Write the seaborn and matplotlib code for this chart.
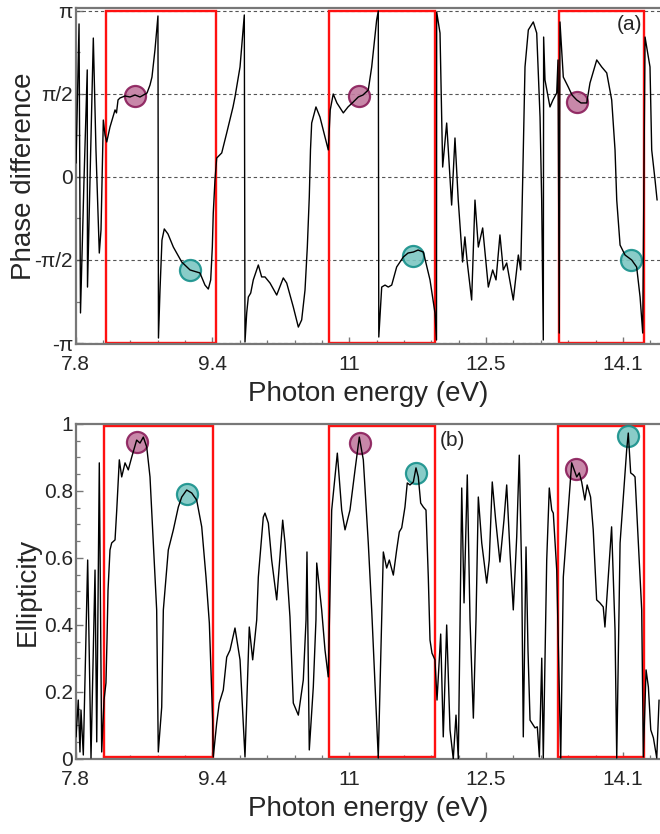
import numpy as np
import pandas as pd
import matplotlib
matplotlib.use("Agg")
import matplotlib.pyplot as plt
from matplotlib.patches import Rectangle
from matplotlib.ticker import FixedLocator, MultipleLocator, AutoMinorLocator
import seaborn as sns

# ---------------- (a) phase difference (in units of pi) ----------------
energy_a = [
    7.804, 7.839, 7.856, 7.897, 7.935, 7.938, 8.006, 8.037, 8.076, 8.096,
    8.123, 8.143, 8.163, 8.201, 8.260, 8.277, 8.295, 8.318, 8.377, 8.435,
    8.494, 8.552, 8.634, 8.669, 8.692, 8.727, 8.762, 8.768, 8.786, 8.809,
    8.836, 8.879, 8.942, 9.040, 9.137, 9.253, 9.312, 9.351, 9.379, 9.398,
    9.409, 9.429, 9.449, 9.508, 9.566, 9.640, 9.663, 9.722, 9.772, 9.780,
    9.800, 9.819, 9.847, 9.877, 9.936, 9.975, 10.014, 10.073, 10.151, 10.228,
    10.268, 10.345, 10.404, 10.443, 10.482, 10.509, 10.532, 10.546, 10.560, 10.610,
    10.657, 10.754, 10.777, 10.812, 10.855, 10.930, 10.985, 11.047, 11.105, 11.160,
    11.222, 11.262, 11.320, 11.339, 11.345, 11.379, 11.418, 11.456, 11.496, 11.554,
    11.632, 11.687, 11.749, 11.804, 11.866, 11.944, 12.002, 12.020, 12.022, 12.061,
    12.092, 12.139, 12.197, 12.236, 12.274, 12.325, 12.352, 12.379, 12.431, 12.470,
    12.509, 12.560, 12.626, 12.677, 12.716, 12.762, 12.801, 12.841, 12.918, 12.977,
    13.005, 13.028, 13.055, 13.094, 13.152, 13.192, 13.231, 13.250, 13.269, 13.273,
    13.289, 13.347, 13.382, 13.426, 13.441, 13.456, 13.464, 13.503, 13.561, 13.605,
    13.660, 13.710, 13.777, 13.815, 13.894, 13.952, 14.011, 14.069, 14.108, 14.128,
    14.167, 14.225, 14.303, 14.361, 14.401, 14.432, 14.459, 14.517, 14.537, 14.576,
    14.600,
]
phase_a = [
    0.084, 0.922, -0.819, -0.018, 0.645, -0.663, 0.837, 0.163, -0.458, -0.319,
    0.343, 0.253, 0.211, 0.301, 0.404, 0.386, 0.464, 0.476, 0.488, 0.482,
    0.494, 0.482, 0.506, 0.554, 0.602, 0.765, 0.970, -0.970, -0.681, -0.380,
    -0.313, -0.343, -0.422, -0.512, -0.560, -0.578, -0.651, -0.675, -0.620, -0.422,
    -0.217, -0.018, 0.114, 0.145, 0.265, 0.422, 0.482, 0.663, 0.976, -0.994,
    -0.819, -0.723, -0.699, -0.620, -0.530, -0.602, -0.602, -0.639, -0.711, -0.608,
    -0.639, -0.783, -0.904, -0.861, -0.681, -0.422, -0.120, 0.163, 0.325, 0.422,
    0.361, 0.163, 0.404, 0.500, 0.446, 0.386, 0.422, 0.452, 0.482, 0.494,
    0.524, 0.663, 0.946, 1.000, -0.964, -0.663, -0.651, -0.663, -0.651, -0.542,
    -0.482, -0.458, -0.452, -0.440, -0.452, -0.620, -0.819, -0.982, 0.994, 0.867,
    0.060, 0.325, -0.169, 0.235, -0.139, -0.512, -0.361, -0.512, -0.741, -0.139,
    -0.422, -0.307, -0.663, -0.560, -0.620, -0.349, -0.560, -0.518, -0.741, -0.470,
    -0.560, -0.018, 0.663, 0.886, 0.934, 0.867, 0.361, -0.139, -0.982, 0.843,
    0.584, 0.422, 0.464, 0.506, 0.705, -0.940, 0.934, 0.602, 0.542, 0.494,
    0.464, 0.446, 0.446, 0.566, 0.705, 0.663, 0.627, 0.464, 0.163, -0.139,
    -0.410, -0.470, -0.500, -0.542, -0.723, -0.940, 0.843, 0.663, 0.163, -0.018,
    -0.139,
]

# ---------------- (b) ellipticity ----------------
energy_b = [
    7.804, 7.830, 7.850, 7.862, 7.889, 7.940, 7.979, 8.026, 8.046, 8.076,
    8.104, 8.131, 8.154, 8.166, 8.178, 8.201, 8.221, 8.260, 8.280, 8.310,
    8.338, 8.377, 8.415, 8.455, 8.513, 8.552, 8.591, 8.631, 8.669, 8.708,
    8.747, 8.766, 8.806, 8.825, 8.883, 8.942, 9.000, 9.040, 9.098, 9.157,
    9.215, 9.274, 9.324, 9.363, 9.402, 9.409, 9.449, 9.479, 9.526, 9.566,
    9.605, 9.663, 9.722, 9.780, 9.830, 9.870, 9.917, 9.936, 9.994, 10.014,
    10.053, 10.092, 10.151, 10.221, 10.248, 10.306, 10.345, 10.404, 10.462, 10.494,
    10.505, 10.532, 10.579, 10.610, 10.619, 10.677, 10.716, 10.754, 10.794, 10.860,
    10.911, 10.950, 11.008, 11.067, 11.117, 11.164, 11.222, 11.262, 11.320, 11.339,
    11.379, 11.398, 11.437, 11.468, 11.515, 11.554, 11.585, 11.613, 11.651, 11.678,
    11.710, 11.749, 11.780, 11.807, 11.835, 11.866, 11.897, 11.924, 11.944, 11.967,
    12.002, 12.026, 12.069, 12.099, 12.139, 12.178, 12.216, 12.248, 12.275, 12.315,
    12.342, 12.380, 12.412, 12.451, 12.482, 12.509, 12.549, 12.607, 12.637, 12.672,
    12.712, 12.762, 12.809, 12.841, 12.880, 12.918, 12.958, 12.988, 13.017, 13.035,
    13.067, 13.090, 13.114, 13.172, 13.199, 13.223, 13.251, 13.269, 13.309, 13.339,
    13.368, 13.386, 13.426, 13.456, 13.473, 13.503, 13.561, 13.601, 13.660, 13.690,
    13.718, 13.755, 13.782, 13.822, 13.853, 13.893, 13.931, 13.970, 13.990, 14.029,
    14.068, 14.108, 14.128, 14.167, 14.205, 14.244, 14.263, 14.291, 14.322, 14.342,
    14.381, 14.420, 14.439, 14.471, 14.498, 14.526, 14.557, 14.596, 14.623,
]
ellipticity_b = [
    0.066, 0.176, 0.021, 0.146, 0.012, 0.594, 0.003, 0.564, 0.051, 0.884,
    0.021, 0.176, 0.227, 0.355, 0.504, 0.624, 0.645, 0.654, 0.743, 0.893,
    0.842, 0.884, 0.863, 0.901, 0.952, 0.943, 0.961, 0.931, 0.842, 0.645,
    0.445, 0.021, 0.155, 0.445, 0.624, 0.684, 0.752, 0.782, 0.803, 0.794,
    0.773, 0.693, 0.543, 0.406, 0.116, 0.006, 0.107, 0.167, 0.206, 0.304,
    0.325, 0.391, 0.296, 0.006, 0.394, 0.296, 0.415, 0.543, 0.722, 0.734,
    0.704, 0.594, 0.475, 0.713, 0.645, 0.424, 0.167, 0.131, 0.236, 0.415,
    0.618, 0.027, 0.215, 0.415, 0.585, 0.445, 0.325, 0.245, 0.743, 0.913,
    0.743, 0.684, 0.743, 0.863, 0.961, 0.893, 0.645, 0.445, 0.116, 0.003,
    0.415, 0.618, 0.570, 0.594, 0.549, 0.624, 0.678, 0.690, 0.752, 0.824,
    0.818, 0.827, 0.869, 0.842, 0.764, 0.752, 0.743, 0.543, 0.355, 0.316,
    0.296, 0.176, 0.373, 0.066, 0.400, 0.087, 0.000, 0.131, 0.000, 0.809,
    0.466, 0.848, 0.415, 0.122, 0.415, 0.782, 0.645, 0.525, 0.594, 0.827,
    0.713, 0.588, 0.713, 0.818, 0.615, 0.445, 0.663, 0.907, 0.543, 0.066,
    0.633, 0.325, 0.116, 0.093, 0.096, 0.006, 0.301, 0.003, 0.594, 0.809,
    0.743, 0.734, 0.564, 0.215, 0.003, 0.543, 0.743, 0.884, 0.842, 0.854,
    0.827, 0.773, 0.818, 0.782, 0.684, 0.475, 0.466, 0.454, 0.394, 0.543,
    0.693, 0.385, 0.003, 0.645, 0.782, 0.922, 0.973, 0.854, 0.848, 0.842,
    0.645, 0.445, 0.006, 0.266, 0.215, 0.087, 0.063, 0.003, 0.176,
]

# highlighted states (m = magenta, t = teal)
mark_kind = ["m", "t", "m", "t", "m", "t"]
mark_energy_a = [8.495, 9.137, 11.113, 11.745, 13.663, 14.295]
mark_phase_a = [0.488, -0.560, 0.488, -0.476, 0.452, -0.500]
mark_energy_b = [8.517, 9.102, 11.125, 11.780, 13.652, 14.260]
mark_ellip_b = [0.946, 0.791, 0.943, 0.854, 0.866, 0.964]

# energy windows (red frames)
window_lo_a = [8.158, 10.765, 13.450]
window_hi_a = [9.437, 12.000, 14.450]
window_lo_b = [8.131, 10.765, 13.445]
window_hi_b = [9.409, 12.000, 14.450]

# x axis ticks
xtick_pos = [7.8, 9.4, 11.0, 12.6, 14.2]
xtick_labels = ["7.8", "9.4", "11", "12.5", "14.1"]

# ------------------------------------------------------------------
sns.set_theme(style="ticks")
plt.rcParams["font.family"] = ["Liberation Sans", "DejaVu Sans"]

fig = plt.figure(figsize=(6.6, 8.34), dpi=100)
ax_a = fig.add_axes([0.1147, 0.58753, 0.8853, 0.40288])
ax_b = fig.add_axes([0.1147, 0.08993, 0.8853, 0.40168])

xmin, xmax = 7.8, 14.634
spine_col = "#777777"
fill = {"m": "#c27ba0", "t": "#7cc7c2"}
edge = {"m": "#8a1d5a", "t": "#16908b"}

df_a = pd.DataFrame({"energy": energy_a, "phase": np.array(phase_a) * np.pi})
df_b = pd.DataFrame({"energy": energy_b, "ellipticity": ellipticity_b})

# ---- panel (a)
for yv in [-np.pi, -np.pi / 2, 0, np.pi / 2, np.pi]:
    ax_a.axhline(yv, color="#555555", lw=0.8, ls=(0, (3, 2.5)), zorder=1)
for lo, hi in zip(window_lo_a, window_hi_a):
    ax_a.add_patch(Rectangle((lo, -np.pi), hi - lo, 2 * np.pi, fill=False,
                             edgecolor="#ff1010", lw=1.7, zorder=2))
for k, xe, yp in zip(mark_kind, mark_energy_a, mark_phase_a):
    ax_a.scatter([xe], [yp * np.pi], s=230, facecolor=fill[k], edgecolor=edge[k],
                 linewidths=1.6, alpha=0.9, zorder=3)
sns.lineplot(data=df_a, x="energy", y="phase", ax=ax_a, sort=False,
             estimator=None, color="black", lw=1.0, zorder=4)
ax_a.set_ylim(-np.pi * 1.006, np.pi * 1.018)
ax_a.set_yticks([-np.pi, -np.pi / 2, 0, np.pi / 2, np.pi])
ax_a.set_yticklabels(["-π", "-π/2", "0", "π/2", "π"])
ax_a.yaxis.set_minor_locator(MultipleLocator(np.pi / 4))
ax_a.set_ylabel("Phase difference", fontsize=20, labelpad=-2)
ax_a.text(0.948, 0.952, "(a)", transform=ax_a.transAxes, fontsize=15,
          ha="center", va="center")

# ---- panel (b)
for lo, hi in zip(window_lo_b, window_hi_b):
    ax_b.add_patch(Rectangle((lo, 0.005), hi - lo, 0.99, fill=False,
                             edgecolor="#ff1010", lw=1.7, zorder=2))
for k, xe, ye in zip(mark_kind, mark_energy_b, mark_ellip_b):
    ax_b.scatter([xe], [ye], s=230, facecolor=fill[k], edgecolor=edge[k],
                 linewidths=1.6, alpha=0.9, zorder=3)
sns.lineplot(data=df_b, x="energy", y="ellipticity", ax=ax_b, sort=False,
             estimator=None, color="black", lw=1.0, zorder=4)
ax_b.set_ylim(0, 1)
ax_b.set_yticks([0, 0.2, 0.4, 0.6, 0.8, 1.0])
ax_b.set_yticklabels(["0", "0.2", "0.4", "0.6", "0.8", "1"])
ax_b.yaxis.set_minor_locator(AutoMinorLocator(4))
ax_b.set_ylabel("Ellipticity", fontsize=20, labelpad=2)
ax_b.text(0.645, 0.952, "(b)", transform=ax_b.transAxes, fontsize=15,
          ha="center", va="center")

for ax in (ax_a, ax_b):
    ax.set_xlim(xmin, xmax)
    ax.xaxis.set_major_locator(FixedLocator(xtick_pos))
    ax.set_xticklabels(xtick_labels)
    ax.xaxis.set_minor_locator(AutoMinorLocator(5))
    ax.set_xlabel("Photon energy (eV)", fontsize=20, labelpad=5)
    ax.tick_params(axis="both", which="major", direction="in", length=5,
                   width=1.0, color=spine_col, labelsize=15)
    ax.tick_params(axis="both", which="minor", direction="in", length=3,
                   width=0.9, color=spine_col)
    ax.tick_params(axis="x", which="major", pad=8)
    ax.tick_params(axis="y", which="major", pad=2)
    ax.tick_params(top=False, right=False, which="both")
    for side in ("left", "bottom", "top"):
        ax.spines[side].set_color(spine_col)
        ax.spines[side].set_linewidth(1.6)
    ax.spines["right"].set_visible(False)

fig.savefig("out.png", dpi=100)
